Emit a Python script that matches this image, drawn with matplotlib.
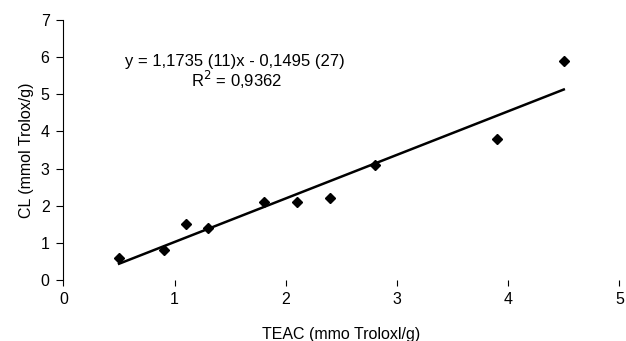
import matplotlib.pyplot as plt
import numpy as np

plt.rcParams['font.family'] = ['Liberation Sans', 'DejaVu Sans']

teac = [0.5, 0.9, 1.1, 1.3, 1.8, 2.1, 2.4, 2.8, 3.9, 4.5]
cl = [0.6, 0.8, 1.5, 1.4, 2.1, 2.1, 2.2, 3.1, 3.8, 5.9]
slope = 1.1735
intercept = -0.1495

fig = plt.figure(figsize=(6.26, 3.41), dpi=100)
ax = fig.add_axes([0.1014, 0.179, 0.888, 0.762])

ax.plot(teac, cl, 'D', color='black', markersize=5.5)
fit_x = np.array([min(teac), max(teac)])
ax.plot(fit_x, slope * fit_x + intercept, color='black', linewidth=1.8)

ax.set_xlim(0, 5)
ax.set_ylim(0, 7)
ax.set_xticks([0, 1, 2, 3, 4, 5])
ax.set_yticks(range(8))

for s in ['top', 'right', 'bottom']:
    ax.spines[s].set_visible(False)
ax.spines['left'].set_linewidth(0.8)
ax.tick_params(axis='y', length=5, width=0.8, labelsize=11.5, pad=5)
ax.tick_params(axis='x', length=4, width=0.8, labelsize=11.5, pad=5)

ax.set_xlabel('TEAC (mmo Troloxl/g)', fontsize=11.5, labelpad=14)
ax.set_ylabel('CL (mmol Trolox/g)', fontsize=11.5, labelpad=5)

ax.text(1.54, 5.88, 'y = 1,1735 (11)x - 0,1495 (27)', ha='center', va='center', fontsize=12)
ax.text(1.56, 5.40, 'R$^2$ = 0,9362', ha='center', va='center', fontsize=12)

fig.savefig('out.png', dpi=100)
